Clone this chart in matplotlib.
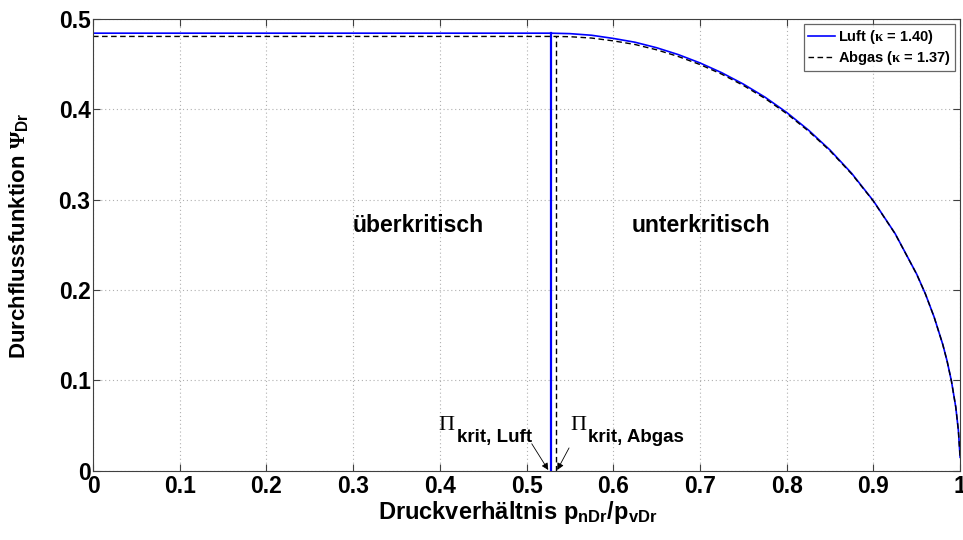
import matplotlib
matplotlib.use("Agg")
import matplotlib.pyplot as plt

plt.rcParams['font.family'] = ['Liberation Sans', 'DejaVu Sans']
plt.rcParams['font.weight'] = 'bold'
plt.rcParams['mathtext.fontset'] = 'custom'
plt.rcParams['mathtext.rm'] = 'Liberation Serif'
plt.rcParams['mathtext.it'] = 'Liberation Serif:italic'
plt.rcParams['mathtext.bf'] = 'Liberation Sans:bold'

# Data
x_luft = [0.0, 0.528, 0.55, 0.575, 0.6, 0.625, 0.65, 0.675, 0.7, 0.725, 0.75, 0.775,
          0.8, 0.825, 0.85, 0.875, 0.9, 0.925, 0.95, 0.96, 0.97, 0.98, 0.985, 0.99,
          0.995, 0.998, 1.0]
y_luft = [0.4842, 0.4842, 0.4837, 0.4819, 0.4784, 0.4742, 0.4681, 0.4605, 0.4513, 0.4405,
          0.4279, 0.4134, 0.3965, 0.3771, 0.3549, 0.3291, 0.2987, 0.2626, 0.2175, 0.1957,
          0.1703, 0.1399, 0.1215, 0.0993, 0.0705, 0.0447, 0.015]
x_abgas = [0.0, 0.5334, 0.55, 0.575, 0.6, 0.625, 0.65, 0.675, 0.7, 0.725, 0.75, 0.775,
           0.8, 0.825, 0.85, 0.875, 0.9, 0.925, 0.95, 0.96, 0.97, 0.98, 0.985, 0.99,
           0.995, 0.998, 1.0]
y_abgas = [0.4806, 0.4806, 0.4803, 0.4788, 0.4757, 0.4717, 0.4658, 0.4584, 0.4495, 0.4389,
           0.4264, 0.4120, 0.3952, 0.3760, 0.3540, 0.3284, 0.2984, 0.2624, 0.2174, 0.1956,
           0.1702, 0.1398, 0.1214, 0.0993, 0.0705, 0.0447, 0.015]
pi_krit = {'Luft': 0.528, 'Abgas': 0.5334}
psi_max = {'Luft': 0.4842, 'Abgas': 0.4806}
x_ticks = [0, 0.1, 0.2, 0.3, 0.4, 0.5, 0.6, 0.7, 0.8, 0.9, 1]
y_ticks = [0, 0.1, 0.2, 0.3, 0.4, 0.5]
tick_labels_x = ['0', '0.1', '0.2', '0.3', '0.4', '0.5', '0.6', '0.7', '0.8', '0.9', '1']
tick_labels_y = ['0', '0.1', '0.2', '0.3', '0.4', '0.5']

fig = plt.figure(figsize=(9.63, 5.4), dpi=100)
ax = fig.add_axes([0.0966, 0.128, 0.9004, 0.837])

ax.plot(x_luft, y_luft, color='#0000ff', lw=1.2, label=r'Luft ($\mathrm{\kappa}$ = 1.40)')
ax.plot(x_abgas, y_abgas, color='black', lw=1.0, dashes=(4, 2.5), label=r'Abgas ($\mathrm{\kappa}$ = 1.37)')
ax.plot([pi_krit['Luft'], pi_krit['Luft']], [0, psi_max['Luft']], color='#0000ff', lw=1.6)
ax.plot([pi_krit['Abgas'], pi_krit['Abgas']], [0, psi_max['Abgas']], color='black', lw=1.0, dashes=(4, 2.5))

ax.set_xlim(0, 1)
ax.set_ylim(0, 0.5)
ax.set_xticks(x_ticks)
ax.set_xticklabels(tick_labels_x)
ax.set_yticks(y_ticks)
ax.set_yticklabels(tick_labels_y)
ax.tick_params(direction='in', labelsize=16.5, top=True, right=True, length=5, width=0.8,
               colors='#404040', labelcolor='black')
ax.tick_params(axis='y', pad=1.8)
ax.tick_params(axis='x', pad=3.2)
for lab in ax.get_xticklabels() + ax.get_yticklabels():
    lab.set_fontweight('bold')
for s in ax.spines.values():
    s.set_color('#404040')
    s.set_linewidth(0.8)
ax.grid(True, linestyle=(0, (1, 2.5)), color='#b0b0b0', lw=0.8)

ax.set_xlabel(r'Druckverhältnis $\mathbf{p_{nDr}/p_{vDr}}$', fontsize=17, fontweight='bold')
ax.xaxis.set_label_coords(0.49, -0.062)
ax.set_ylabel(r'Durchflussfunktion $\Psi_{\mathbf{Dr}}$', fontsize=16, fontweight='bold')
ax.yaxis.set_label_coords(-0.073, 0.52)

ax.text(0.375, 0.272, 'überkritisch', fontsize=16.5, fontweight='bold', ha='center', va='center')
ax.text(0.701, 0.272, 'unterkritisch', fontsize=16.5, fontweight='bold', ha='center', va='center')

# Pi_krit annotations
ax.text(0.398, 0.0454, 'Π', fontsize=16, fontweight='normal', family='Liberation Serif',
        ha='left', va='baseline')
ax.text(0.420, 0.032, 'krit, Luft', fontsize=13.5, fontweight='bold', ha='left', va='baseline')
ax.text(0.550, 0.0454, 'Π', fontsize=16, fontweight='normal', family='Liberation Serif',
        ha='left', va='baseline')
ax.text(0.571, 0.032, 'krit, Abgas', fontsize=13.5, fontweight='bold', ha='left', va='baseline')
ax.annotate('', xy=(pi_krit['Luft'] - 0.003, 0.001), xytext=(0.506, 0.030),
            arrowprops=dict(arrowstyle='-|>', color='black', lw=0.6, mutation_scale=10,
                            shrinkA=0, shrinkB=0))
ax.annotate('', xy=(pi_krit['Abgas'] + 0.002, 0.001), xytext=(0.549, 0.0254),
            arrowprops=dict(arrowstyle='-|>', color='black', lw=0.6, mutation_scale=10,
                            shrinkA=0, shrinkB=0))

leg = ax.legend(loc='upper right', prop={'weight': 'bold', 'size': 10.5}, frameon=True,
                fancybox=False, edgecolor='#404040', handlelength=1.9, handletextpad=0.2,
                borderpad=0.25, labelspacing=0.25, borderaxespad=0.35)
leg.get_frame().set_linewidth(0.9)

fig.savefig('out.png', dpi=100)
